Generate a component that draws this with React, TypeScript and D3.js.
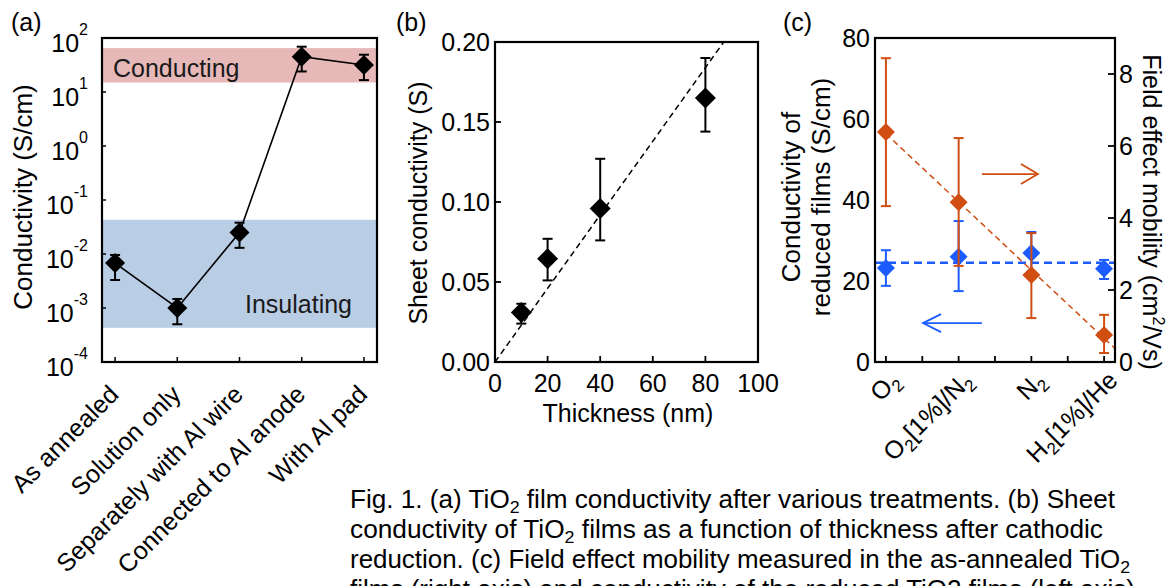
import React from 'react';
import * as d3 from 'd3';

const FONT = "'Liberation Sans', Arial, Helvetica, sans-serif";
const W = 1168;
const H = 586;

// ---------- Panel (a) data ----------
const treatments = ['As annealed', 'Solution only', 'Separately with Al wire', 'Connected to Al anode', 'With Al pad'];
const condA = [0.0068, 0.001, 0.025, 45, 31.6];
const condAHi = [0.0096, 0.00147, 0.038, 69, 49];
const condALo = [0.0033, 0.0005, 0.013, 24, 16.6];
const decadeExps = [-4, -3, -2, -1, 0, 1, 2];
const conductingBand = [15, 65];
const insulatingBand = [0.00043, 0.043];

// ---------- Panel (b) data ----------
const thickness = [10, 20, 40, 80];
const sheetCond = [0.031, 0.0646, 0.0959, 0.165];
const sheetHi = [0.0364, 0.077, 0.127, 0.19];
const sheetLo = [0.024, 0.051, 0.076, 0.144];
const xTicksB = [0, 20, 40, 60, 80, 100];
const yTicksB = [0, 0.05, 0.1, 0.15, 0.2];
const fitSlopeB = 0.0023;

// ---------- Panel (c) data ----------
const gasLabels = ['O_2', 'O_2[1%]/N_2', 'N_2', 'H_2[1%]/He'];
const condC = [23.2, 26, 26.9, 23];
const condCHi = [27.6, 34.8, 32.1, 25.2];
const condCLo = [18.8, 17.5, 21.7, 20.5];
const condCMean = 24.5;
const mobility = [6.39, 4.44, 2.42, 0.75];
const mobHi = [8.44, 6.22, 3.58, 1.31];
const mobLo = [4.33, 2.67, 1.22, 0.25];
const yTicksCL = [0, 20, 40, 60, 80];
const yTicksCR = [0, 2, 4, 6, 8];

const ORANGE = '#d04e12';
const BLUE = '#1c5cff';

const diamondPath = (size: number) => d3.symbol().type(d3.symbolSquare).size(size)() as string;

function parseSub(s: string) {
  const out: { t: string; sub: boolean }[] = [];
  let buf = '';
  for (let i = 0; i < s.length; i++) {
    if (s[i] === '_') {
      if (buf) out.push({ t: buf, sub: false });
      buf = '';
      out.push({ t: s[i + 1], sub: true });
      i++;
    } else buf += s[i];
  }
  if (buf) out.push({ t: buf, sub: false });
  return out;
}

function SubText({ s, size = 25, subSize = 17, shift = 6 }: { s: string; size?: number; subSize?: number; shift?: number }) {
  const segs = parseSub(s);
  let cur = 0;
  return (
    <>
      {segs.map((sg, i) => {
        const target = sg.sub ? shift : 0;
        const dy = target - cur;
        cur = target;
        return (
          <tspan key={i} dy={dy} fontSize={sg.sub ? subSize : size}>
            {sg.t}
          </tspan>
        );
      })}
    </>
  );
}

function ErrBar({ x, yHi, yLo, color, cap = 5, w = 2 }: any) {
  return (
    <g stroke={color} strokeWidth={w}>
      <line x1={x} x2={x} y1={yHi} y2={yLo} />
      <line x1={x - cap} x2={x + cap} y1={yHi} y2={yHi} />
      <line x1={x - cap} x2={x + cap} y1={yLo} y2={yLo} />
    </g>
  );
}

function PanelA() {
  const x = d3.scaleLinear().domain([-0.21, 4.21]).range([102, 377]);
  const y = d3.scaleLog().domain([1e-4, 1e2]).range([362, 38]);
  const [x0, x1] = x.range();
  const [yb, yt] = y.range();
  const idx = treatments.map((_, i) => i);
  const line = d3.line<number>().x((i) => x(i)).y((i) => y(condA[i]));
  const dPath = diamondPath(200);
  return (
    <g>
      <rect x={x0} y={y(conductingBand[1])} width={x1 - x0} height={y(conductingBand[0]) - y(conductingBand[1])} fill="#e6b9b8" />
      <rect x={x0} y={y(insulatingBand[1])} width={x1 - x0} height={y(insulatingBand[0]) - y(insulatingBand[1])} fill="#b9cde5" />
      <text x={113} y={77} fontSize={25} fill="#1a1a1a">Conducting</text>
      <text x={245} y={313} fontSize={25} fill="#1a1a1a">Insulating</text>
      {decadeExps.map((e) => (
        <g key={e}>
          <line x1={x0} x2={x0 + 4} y1={y(10 ** e)} y2={y(10 ** e)} stroke="#000" strokeWidth={1.5} />
          <text x={88} y={y(10 ** e) + 14} textAnchor="end" fontSize={25}>
            10<tspan fontSize={16} dy={-17}>{`${e}`}</tspan>
          </text>
        </g>
      ))}
      {idx.map((i) => (
        <line key={i} x1={x(i)} x2={x(i)} y1={yb} y2={yb - 5} stroke="#000" strokeWidth={1.5} />
      ))}
      <path d={line(idx) as string} fill="none" stroke="#000" strokeWidth={1.6} />
      {idx.map((i) => (
        <ErrBar key={i} x={x(i)} yHi={y(condAHi[i])} yLo={y(condALo[i])} color="#000" />
      ))}
      {idx.map((i) => (
        <path key={i} d={dPath} transform={`translate(${x(i)},${y(condA[i])}) rotate(45)`} fill="#000" />
      ))}
      <rect x={x0} y={yt} width={x1 - x0} height={yb - yt} fill="none" stroke="#000" strokeWidth={2.2} />
      {treatments.map((t, i) => (
        <text key={t} transform={`translate(${x(i) + 5},${396}) rotate(-45)`} textAnchor="end" fontSize={25}>
          {t}
        </text>
      ))}
      <text transform="translate(32,197) rotate(-90)" textAnchor="middle" fontSize={26}>
        Conductivity (S/cm)
      </text>
      <text x={11} y={31} fontSize={25}>(a)</text>
    </g>
  );
}

function PanelB() {
  const x = d3.scaleLinear().domain([0, 100]).range([495, 758]);
  const y = d3.scaleLinear().domain([0, 0.2]).range([362, 42]);
  const [x0, x1] = x.range();
  const [yb, yt] = y.range();
  const fitEnd = y.domain()[1] / fitSlopeB;
  const dPath = diamondPath(220);
  return (
    <g>
      {xTicksB.slice(1, -1).map((t) => (
        <line key={t} x1={x(t)} x2={x(t)} y1={yb} y2={yb - 6} stroke="#000" strokeWidth={1.8} />
      ))}
      {yTicksB.slice(1, -1).map((t) => (
        <line key={t} x1={x0} x2={x0 + 6} y1={y(t)} y2={y(t)} stroke="#000" strokeWidth={1.8} />
      ))}
      {xTicksB.map((t) => (
        <text key={t} x={x(t)} y={392} textAnchor="middle" fontSize={25}>{t}</text>
      ))}
      {yTicksB.map((t) => (
        <text key={t} x={490} y={y(t)} dy="0.36em" textAnchor="end" fontSize={25}>{d3.format('.2f')(t)}</text>
      ))}
      <line x1={x(0)} y1={y(0)} x2={x(fitEnd)} y2={y(fitSlopeB * fitEnd)} stroke="#000" strokeWidth={1.5} strokeDasharray="6,4" />
      {thickness.map((t, i) => (
        <ErrBar key={t} x={x(t)} yHi={y(sheetHi[i])} yLo={y(sheetLo[i])} color="#000" />
      ))}
      {thickness.map((t, i) => (
        <path key={t} d={dPath} transform={`translate(${x(t)},${y(sheetCond[i])}) rotate(45)`} fill="#000" />
      ))}
      <rect x={x0} y={yt} width={x1 - x0} height={yb - yt} fill="none" stroke="#000" strokeWidth={2.2} />
      <text x={628} y={422} textAnchor="middle" fontSize={25}>Thickness (nm)</text>
      <text transform="translate(427,203) rotate(-90)" textAnchor="middle" fontSize={25}>Sheet conductivity (S)</text>
      <text x={396} y={31} fontSize={25}>(b)</text>
    </g>
  );
}

function PanelC() {
  const x = d3.scaleLinear().domain([-0.15, 3.15]).range([875, 1115]);
  const yL = d3.scaleLinear().domain([0, 80]).range([362, 38]);
  const yR = d3.scaleLinear().domain([0, 9]).range([362, 38]);
  const [x0, x1] = x.range();
  const [yb, yt] = yL.range();
  const idx = gasLabels.map((_, i) => i);
  const dPath = diamondPath(162);
  // linear least-squares fit of mobility vs category index
  const mx = d3.mean(idx) as number;
  const my = d3.mean(mobility) as number;
  const sxy = d3.sum(idx, (i) => (i - mx) * (mobility[i] - my));
  const sxx = d3.sum(idx, (i) => (i - mx) ** 2);
  const slope = sxy / sxx;
  const icpt = my - slope * mx;
  const xEnd = x.domain()[1];
  const minorTicks = [0.5, 1.5, 2.5];
  const arrowR = { y: 5.22, from: 1.32, to: 2.09 };
  const arrowL = { y: 9.6, from: 1.32, to: 0.51 };
  return (
    <g>
      {[...idx, ...minorTicks].map((t) => (
        <line key={t} x1={x(t)} x2={x(t)} y1={yb} y2={yb - 6} stroke="#000" strokeWidth={1.8} />
      ))}
      {yTicksCR.slice(1).map((t) => (
        <line key={t} x1={x1} x2={x1 - 7} y1={yR(t)} y2={yR(t)} stroke="#000" strokeWidth={1.8} />
      ))}
      {yTicksCL.map((t) => (
        <text key={t} x={870} y={yL(t)} dy="0.36em" textAnchor="end" fontSize={25}>{t}</text>
      ))}
      {yTicksCR.map((t) => (
        <text key={t} x={1119} y={yR(t)} dy="0.36em" textAnchor="start" fontSize={25}>{t}</text>
      ))}
      {/* blue: conductivity, left axis */}
      <line x1={x0} x2={x1} y1={yL(condCMean)} y2={yL(condCMean)} stroke={BLUE} strokeWidth={2.4} strokeDasharray="8,5" />
      {idx.map((i) => (
        <ErrBar key={i} x={x(i)} yHi={yL(condCHi[i])} yLo={yL(condCLo[i])} color={BLUE} />
      ))}
      {idx.map((i) => (
        <path key={i} d={dPath} transform={`translate(${x(i)},${yL(condC[i])}) rotate(45)`} fill={BLUE} />
      ))}
      {/* orange: mobility, right axis */}
      <line x1={x(0)} y1={yR(icpt)} x2={x(xEnd)} y2={yR(icpt + slope * xEnd)} stroke={ORANGE} strokeWidth={1.5} strokeDasharray="6,4" />
      {idx.map((i) => (
        <ErrBar key={i} x={x(i)} yHi={yR(mobHi[i])} yLo={yR(mobLo[i])} color={ORANGE} />
      ))}
      {idx.map((i) => (
        <path key={i} d={dPath} transform={`translate(${x(i)},${yR(mobility[i])}) rotate(45)`} fill={ORANGE} />
      ))}
      {/* arrows */}
      <g stroke={ORANGE} strokeWidth={1.8} fill="none">
        <line x1={x(arrowR.from)} x2={x(arrowR.to)} y1={yR(arrowR.y)} y2={yR(arrowR.y)} />
        <polyline points={`${x(arrowR.to) - 17},${yR(arrowR.y) - 10} ${x(arrowR.to)},${yR(arrowR.y)} ${x(arrowR.to) - 17},${yR(arrowR.y) + 10}`} />
      </g>
      <g stroke={BLUE} strokeWidth={1.8} fill="none">
        <line x1={x(arrowL.from)} x2={x(arrowL.to)} y1={yL(arrowL.y)} y2={yL(arrowL.y)} />
        <polyline points={`${x(arrowL.to) + 18},${yL(arrowL.y) - 9} ${x(arrowL.to)},${yL(arrowL.y)} ${x(arrowL.to) + 18},${yL(arrowL.y) + 9}`} />
      </g>
      <rect x={x0} y={yt} width={x1 - x0} height={yb - yt} fill="none" stroke="#000" strokeWidth={2.2} />
      {gasLabels.map((g, i) => (
        <text key={g} transform={`translate(${x(i) + 15},${382}) rotate(-45)`} textAnchor="end" fontSize={25}>
          <SubText s={g} />
        </text>
      ))}
      <text transform="translate(800,197) rotate(-90)" textAnchor="middle" fontSize={26}>Conductivity of</text>
      <text transform="translate(830,197) rotate(-90)" textAnchor="middle" fontSize={26}>reduced films (S/cm)</text>
      <text transform="translate(1143,212) rotate(90)" textAnchor="middle" fontSize={25}>
        Field effect mobility (cm<tspan fontSize={16} dy={-10}>2</tspan><tspan dy={10}>/Vs)</tspan>
      </text>
      <text x={783} y={31} fontSize={25}>(c)</text>
    </g>
  );
}

const captionLines = [
  'Fig. 1.  (a) TiO_2 film conductivity after various treatments. (b) Sheet',
  'conductivity of TiO_2 films as a function of thickness after cathodic',
  'reduction. (c) Field effect mobility measured in the as-annealed  TiO_2',
  'films (right axis) and conductivity of the reduced TiO2 films (left axis)',
];
const captionWidths = [765, 753, 780, 785];

function Caption() {
  return (
    <g>
      {captionLines.map((l, i) => (
        <text key={i} x={350} y={508 + i * 30} fontSize={25} textLength={captionWidths[i]} lengthAdjust="spacingAndGlyphs">
          <SubText s={l} size={25} subSize={17} shift={5} />
        </text>
      ))}
    </g>
  );
}

export default function App() {
  return (
    <svg
      width={W}
      height={H}
      viewBox={`0 0 ${W} ${H}`}
      style={{ position: 'absolute', left: 0, top: 0, background: '#fff' }}
      fontFamily={FONT}
      fill="#000"
    >
      <rect width={W} height={H} fill="#fff" />
      <PanelA />
      <PanelB />
      <PanelC />
      <Caption />
    </svg>
  );
}
